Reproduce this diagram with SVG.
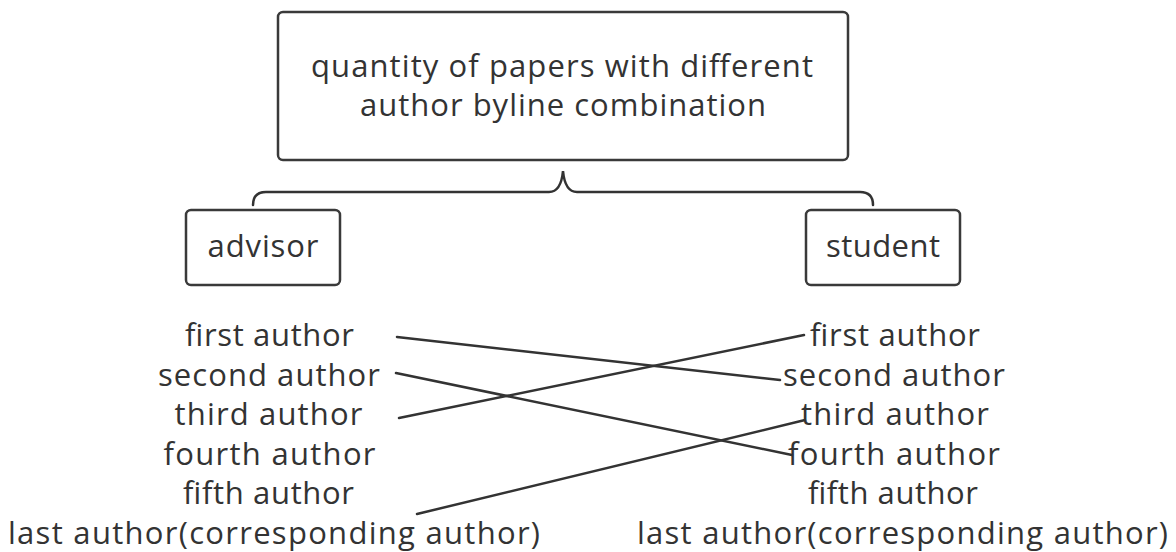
<svg xmlns="http://www.w3.org/2000/svg" width="1176" height="552" viewBox="0 0 1176 552">
<style>
.box{fill:#fff;stroke:#3a3a3a;stroke-width:2.5}
.t{font-family:"Open Sans","Noto Sans","Liberation Sans",sans-serif;font-size:31px;fill:#333;text-anchor:middle}
.c{fill:none;stroke:#333;stroke-width:2.5;stroke-linecap:round}
</style>
<rect width="1176" height="552" fill="#fff"/>
<g id="root">
<rect class="box" x="278" y="12" width="570" height="148" rx="5"/>
<text class="t" x="562" y="77" textLength="502" lengthAdjust="spacing">quantity of papers with different</text>
<text class="t" x="563" y="116" textLength="406" lengthAdjust="spacing">author byline combination</text>
</g>
<g id="advisor">
<rect class="box" x="186" y="210" width="154" height="75" rx="5"/>
<text class="t" x="263" y="257" textLength="111" lengthAdjust="spacing">advisor</text>
</g>
<g id="student">
<rect class="box" x="806" y="210" width="154" height="75" rx="5"/>
<text class="t" x="883" y="257" textLength="114" lengthAdjust="spacing">student</text>
</g>
<g id="advisor-list">
<text class="t" x="269.5" y="346" textLength="169" lengthAdjust="spacing">first author</text>
<text class="t" x="269" y="385.6" textLength="222" lengthAdjust="spacing">second author</text>
<text class="t" x="268.5" y="425.2" textLength="188" lengthAdjust="spacing">third author</text>
<text class="t" x="269.5" y="464.8" textLength="212" lengthAdjust="spacing">fourth author</text>
<text class="t" x="268.5" y="504.4" textLength="171" lengthAdjust="spacing">fifth author</text>
<text class="t" x="274" y="544" textLength="532" lengthAdjust="spacing">last author(corresponding author)</text>
</g>
<g id="student-list">
<text class="t" x="895" y="346" textLength="170" lengthAdjust="spacing">first author</text>
<text class="t" x="894" y="385.6" textLength="222" lengthAdjust="spacing">second author</text>
<text class="t" x="895" y="425.2" textLength="188" lengthAdjust="spacing">third author</text>
<text class="t" x="894" y="464.8" textLength="212" lengthAdjust="spacing">fourth author</text>
<text class="t" x="893" y="504.4" textLength="170" lengthAdjust="spacing">fifth author</text>
<text class="t" x="902.5" y="544" textLength="531" lengthAdjust="spacing">last author(corresponding author)</text>
</g>
<g id="connectors">
<path class="c" d="M253,205 Q253,192 266,192 L549,192 Q561,192 563,171 Q565,192 577,192 L860,192 Q873,192 873,205"/>
<line class="c" x1="397" y1="337" x2="780" y2="380"/>
<line class="c" x1="396" y1="373" x2="792" y2="455"/>
<line class="c" x1="399" y1="418" x2="804" y2="335"/>
<line class="c" x1="417" y1="514" x2="805" y2="420"/>
</g>
</svg>
